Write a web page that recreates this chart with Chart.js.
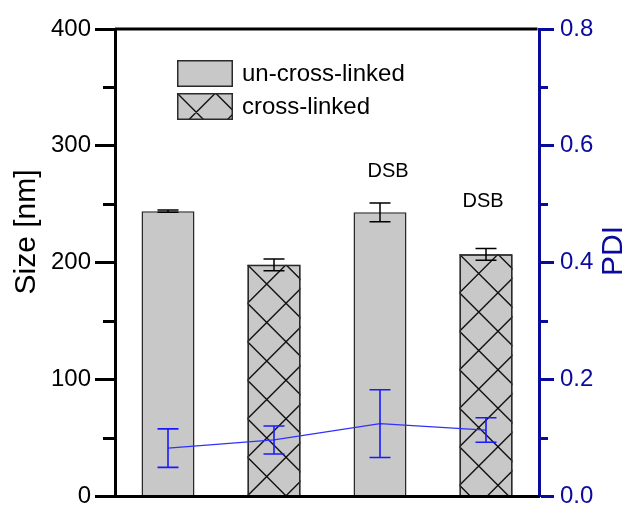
<!DOCTYPE html>
<html>
<head>
<meta charset="utf-8">
<script src="https://cdn.jsdelivr.net/npm/chart.js@4.4.1/dist/chart.umd.min.js"></script>
<style>
  html, body { margin: 0; padding: 0; background: #ffffff; }
  #wrap { width: 626px; height: 506px; position: relative; }
</style>
</head>
<body>
<div id="wrap"><canvas id="c" width="626" height="506"></canvas></div>
<script>
// ---- data ----
const categories = ['un-cross-linked', 'cross-linked', 'DSB un-cross-linked', 'DSB cross-linked'];
const sizeValues = [244, 198, 243, 207];
const sizeErrors = [1, 5, 8, 5];
const pdiValues = [0.082, 0.096, 0.124, 0.113];
const pdiErrors = [0.033, 0.024, 0.058, 0.021];
const crossLinked = [false, true, false, true];
const annotationText = ['', '', 'DSB', 'DSB'];
const legendLabels = ['un-cross-linked', 'cross-linked'];
const legendHatched = [false, true];
const sizeMinorTicks = [50, 150, 250, 350];
const pdiMinorTicks = [0.1, 0.3, 0.5, 0.7];
const sizeTitle = 'Size [nm]';
const pdiTitle = 'PDI';

// ---- style ----
const FONT = "'Liberation Sans', Arial, sans-serif";
const BLACK = '#000000';
const NAVY = '#0a0a9c';
const LINE_BLUE = '#3030ff';
const ERR_BLUE = '#1a1aff';
const BAR_FILL = '#c8c8c8';
const BAR_EDGE = '#2a2a2a';
const HATCH_PERIOD = 38.5;
const ANNOT_OFFSETS = [[0, 0], [0, 0], [8, -41], [-3, -53]];

function drawHatch(ctx, L, T, W, H) {
  ctx.save();
  ctx.beginPath();
  ctx.rect(L, T, W, H);
  ctx.clip();
  ctx.strokeStyle = '#111111';
  ctx.lineWidth = 1.4;
  ctx.beginPath();
  const P = HATCH_PERIOD;
  const n = Math.ceil((W + H) / P) + 1;
  for (let k = -n; k <= n; k++) {
    const x0 = L + k * P;
    ctx.moveTo(x0, T); ctx.lineTo(x0 + W + H, T + W + H);
    ctx.moveTo(x0, T); ctx.lineTo(x0 - W - H, T + W + H);
  }
  ctx.stroke();
  ctx.restore();
}

function errorBar(ctx, x, yTop, yBot, cap, color, lw) {
  ctx.save();
  ctx.strokeStyle = color;
  ctx.lineWidth = lw;
  ctx.beginPath();
  ctx.moveTo(x, yTop); ctx.lineTo(x, yBot);
  ctx.moveTo(x - cap / 2, yTop); ctx.lineTo(x + cap / 2, yTop);
  ctx.moveTo(x - cap / 2, yBot); ctx.lineTo(x + cap / 2, yBot);
  ctx.stroke();
  ctx.restore();
}

const decorPlugin = {
  id: 'decor',
  afterDatasetDraw(chart, args) {
    const ctx = chart.ctx;
    if (args.index === 0) {
      const meta = chart.getDatasetMeta(0);
      const yS = chart.scales.y;
      meta.data.forEach((el, i) => {
        const p = el.getProps(['x', 'y', 'base', 'width'], true);
        const L = p.x - p.width / 2, T = p.y, W = p.width, H = p.base - p.y;
        if (crossLinked[i]) {
          drawHatch(ctx, L, T, W, H);
          ctx.save();
          ctx.strokeStyle = BAR_EDGE;
          ctx.lineWidth = 1.5;
          ctx.beginPath();
          ctx.moveTo(L + 0.75, p.base);
          ctx.lineTo(L + 0.75, T + 0.75);
          ctx.lineTo(L + W - 0.75, T + 0.75);
          ctx.lineTo(L + W - 0.75, p.base);
          ctx.stroke();
          ctx.restore();
        }
        errorBar(ctx, p.x,
          yS.getPixelForValue(sizeValues[i] + sizeErrors[i]),
          yS.getPixelForValue(sizeValues[i] - sizeErrors[i]),
          21, BLACK, 1.5);
      });
    } else if (args.index === 1) {
      const meta = chart.getDatasetMeta(1);
      const yS = chart.scales.y1;
      meta.data.forEach((el, i) => {
        errorBar(ctx, el.x,
          yS.getPixelForValue(pdiValues[i] + pdiErrors[i]),
          yS.getPixelForValue(pdiValues[i] - pdiErrors[i]),
          21, ERR_BLUE, 1.6);
      });
    }
  },
  afterDraw(chart) {
    const ctx = chart.ctx;
    const ca = chart.chartArea;
    const yS = chart.scales.y, y1S = chart.scales.y1;
    ctx.save();
    // top frame line
    ctx.strokeStyle = BLACK;
    ctx.lineWidth = 3;
    ctx.beginPath();
    ctx.moveTo(ca.left, ca.top);
    ctx.lineTo(ca.right - 1.5, ca.top);
    ctx.stroke();
    // minor ticks
    ctx.beginPath();
    sizeMinorTicks.forEach(v => {
      const y = Math.round(yS.getPixelForValue(v)) + 0.5;
      ctx.moveTo(yS.right - 12, y); ctx.lineTo(yS.right, y);
    });
    ctx.stroke();
    ctx.strokeStyle = NAVY;
    ctx.beginPath();
    pdiMinorTicks.forEach(v => {
      const y = Math.round(y1S.getPixelForValue(v)) + 0.5;
      ctx.moveTo(y1S.left, y); ctx.lineTo(y1S.left + 9, y);
    });
    ctx.stroke();

    // axis titles
    ctx.font = '30px ' + FONT;
    ctx.textAlign = 'center';
    ctx.textBaseline = 'middle';
    ctx.fillStyle = BLACK;
    ctx.save();
    ctx.translate(27, ca.top + 203);
    ctx.rotate(-Math.PI / 2);
    ctx.fillText(sizeTitle, 0, 0);
    ctx.restore();
    ctx.fillStyle = NAVY;
    ctx.save();
    ctx.translate(614, ca.top + 222);
    ctx.rotate(-Math.PI / 2);
    ctx.fillText(pdiTitle, 0, 0);
    ctx.restore();

    // legend
    const bx = ca.left + 62, by = ca.top + 31, bw = 56, bh = 27, gap = 33;
    ctx.font = '24px ' + FONT;
    ctx.textAlign = 'left';
    ctx.textBaseline = 'middle';
    legendLabels.forEach((lab, i) => {
      const y = by + i * gap;
      ctx.fillStyle = BAR_FILL;
      ctx.fillRect(bx, y, bw, bh);
      if (legendHatched[i]) drawHatch(ctx, bx, y, bw, bh);
      ctx.strokeStyle = BAR_EDGE;
      ctx.lineWidth = 1.5;
      ctx.strokeRect(bx + 0.75, y + 0.75, bw - 1.5, bh - 1.5);
      ctx.fillStyle = BLACK;
      ctx.fillText(lab, bx + bw + 9, y + bh / 2 + 1);
    });

    // annotations
    const meta = chart.getDatasetMeta(0);
    ctx.font = '20px ' + FONT;
    ctx.textAlign = 'center';
    ctx.fillStyle = BLACK;
    annotationText.forEach((t, i) => {
      if (!t) return;
      const el = meta.data[i];
      ctx.fillText(t, el.x + ANNOT_OFFSETS[i][0], el.y + ANNOT_OFFSETS[i][1]);
    });
    ctx.restore();
  }
};

new Chart(document.getElementById('c'), {
  data: {
    labels: categories,
    datasets: [
      {
        type: 'bar',
        label: 'Size',
        data: sizeValues,
        yAxisID: 'y',
        backgroundColor: BAR_FILL,
        borderColor: BAR_EDGE,
        borderWidth: 1.5,
        barPercentage: 0.5,
        categoryPercentage: 1.0,
        order: 1
      },
      {
        type: 'line',
        label: 'PDI',
        data: pdiValues,
        yAxisID: 'y1',
        borderColor: LINE_BLUE,
        borderWidth: 1.2,
        pointRadius: 0,
        tension: 0,
        fill: false,
        order: 0
      }
    ]
  },
  options: {
    responsive: false,
    animation: false,
    devicePixelRatio: 1,
    events: [],
    layout: { padding: { top: 29, left: 0, right: 0, bottom: 0 } },
    plugins: { legend: { display: false }, tooltip: { enabled: false } },
    scales: {
      x: {
        type: 'category',
        offset: true,
        grid: { display: true, drawOnChartArea: false, drawTicks: false, color: 'rgba(0,0,0,0)' },
        ticks: { display: false },
        border: { display: true, color: BLACK, width: 3, z: 1 },
        afterFit(s) { s.height = 10; }
      },
      y: {
        position: 'left',
        min: 0, max: 400,
        ticks: { stepSize: 100, color: BLACK, font: { family: FONT, size: 24 }, padding: 4 },
        grid: { drawOnChartArea: false, drawTicks: true, tickLength: 20, tickWidth: 3, tickColor: BLACK },
        border: { display: true, color: BLACK, width: 3 },
        afterFit(s) { s.width = 115; s.paddingTop = 0; s.paddingBottom = 0; }
      },
      y1: {
        position: 'right',
        min: 0, max: 0.8,
        ticks: { stepSize: 0.2, color: NAVY, font: { family: FONT, size: 24 }, padding: 6,
                 callback: v => Number(v).toFixed(1) },
        grid: { drawOnChartArea: false, drawTicks: true, tickLength: 15, tickWidth: 3, tickColor: NAVY },
        border: { display: true, color: NAVY, width: 3 },
        afterFit(s) { s.width = 87; s.paddingTop = 0; s.paddingBottom = 0; }
      }
    }
  },
  plugins: [decorPlugin]
});
</script>
</body>
</html>
